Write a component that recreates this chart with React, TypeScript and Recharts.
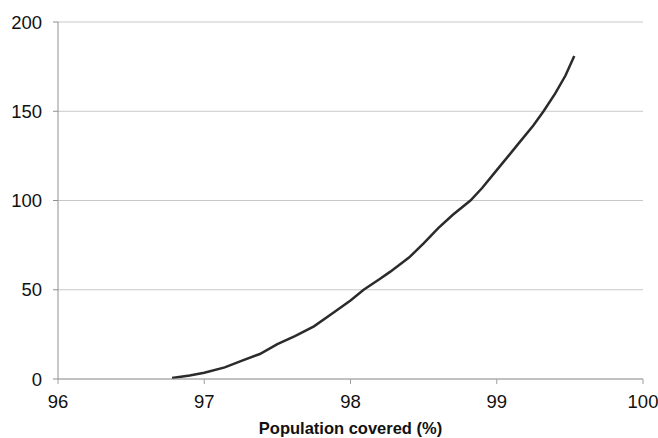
import { LineChart, Line, XAxis, YAxis, CartesianGrid } from "recharts"

// coverage (%) vs value
const coverage = [
  96.78, 96.9, 97.0, 97.14, 97.25, 97.38, 97.5, 97.62, 97.75, 97.88, 98.0, 98.09, 98.2, 98.27, 98.4,
  98.5, 98.6, 98.7, 98.82, 98.9, 99.0, 99.14, 99.25, 99.32, 99.4, 99.47, 99.53,
]
const values = [
  0.5, 2, 3.5, 6.5, 10, 14, 19.5, 24, 29.5, 37, 44, 50, 56, 60, 68, 76, 84.5, 92, 100, 107, 117, 131,
  142, 150, 160, 170, 181,
]
const xTicks = [96, 97, 98, 99, 100]
const yTicks = [0, 50, 100, 150, 200]

const data = coverage.map((x, i) => ({ x, y: values[i] }))

const font = "'Liberation Sans', Arial, sans-serif"

export default function App() {
  return (
    <div style={{ position: "absolute", left: 0, top: 0, background: "#fff" }}>
      <LineChart
        width={658}
        height={438}
        data={data}
        margin={{ top: 22, right: 15, left: 8, bottom: 0 }}
      >
        <CartesianGrid vertical={false} stroke="#c8c8c8" />
        <XAxis
          dataKey="x"
          type="number"
          domain={[96, 100]}
          ticks={xTicks}
          height={59}
          stroke="#a0a0a0"
          tickSize={5}
          tickMargin={11}
          tick={{ fill: "#111", fontSize: 18.5, fontFamily: font }}
          label={{
            value: "Population covered (%)",
            position: "insideBottom",
            offset: 4,
            fill: "#111",
            fontSize: 16.5,
            fontWeight: "bold",
            fontFamily: font,
          }}
        />
        <YAxis
          type="number"
          domain={[0, 200]}
          ticks={yTicks}
          width={50}
          stroke="#909090"
          tickSize={5}
          tickMargin={11}
          tick={{ fill: "#111", fontSize: 18.5, fontFamily: font }}
        />
        <Line
          dataKey="y"
          type="linear"
          stroke="#2b2b2b"
          strokeWidth={2.5}
          dot={false}
          isAnimationActive={false}
        />
      </LineChart>
    </div>
  )
}
